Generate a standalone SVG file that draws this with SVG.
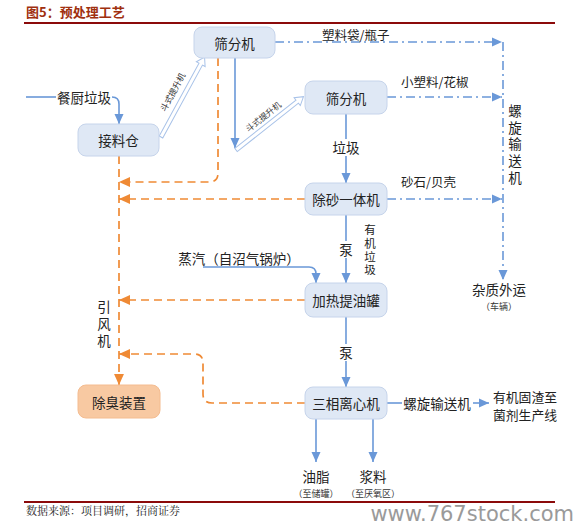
<svg xmlns="http://www.w3.org/2000/svg" width="588" height="529" viewBox="0 0 588 529">
<defs>
<style>
text{font-family:"Noto Sans CJK SC","Noto Sans",sans-serif;fill:#222}
.lbl{font-size:13.5px;text-anchor:middle;dominant-baseline:central}
.sm{font-size:12.5px;dominant-baseline:central}
.tiny{font-size:9px;text-anchor:middle;dominant-baseline:central;fill:#333}
.vert{font-size:13.5px;writing-mode:vertical-rl;text-anchor:start;letter-spacing:3.3px}
.node{fill:#DFE8F5;stroke:#C6D4EB;stroke-width:1}
.blue{fill:none;stroke:#6A98D8;stroke-width:1.6}
.bdd{fill:none;stroke:#6A98D8;stroke-width:1.6;stroke-dasharray:9 4 2 4}
.org{fill:none;stroke:#EF8A35;stroke-width:1.7;stroke-dasharray:8 5}
.elev{fill:#FFFFFF;stroke:#A8C2E8;stroke-width:1}
</style>
<marker id="ab" viewBox="0 0 10 10" refX="10" refY="5" markerWidth="10" markerHeight="10" markerUnits="userSpaceOnUse" orient="auto"><path d="M0,0.5 L10,5 L0,9.5 Z" fill="#6A98D8"/></marker>
<marker id="ao" viewBox="0 0 10 10" refX="10" refY="5" markerWidth="11" markerHeight="11" markerUnits="userSpaceOnUse" orient="auto"><path d="M0,0.5 L10,5 L0,9.5 Z" fill="#EF8A35"/></marker>
</defs>
<rect width="588" height="529" fill="#FFFFFF"/>
<text x="26" y="17" style="font-size:13px;font-weight:bold;fill:#A0300F">图5：预处理工艺</text>
<line x1="24" y1="23" x2="555" y2="23" stroke="#8B0A0A" stroke-width="2"/>
<line x1="24" y1="502" x2="555" y2="502" stroke="#8B0A0A" stroke-width="2"/>
<text x="26" y="515" style="font-size:11px;font-family:'Noto Serif CJK SC','Noto Sans CJK SC',serif;fill:#222">数据来源：项目调研，招商证券</text>
<text x="574" y="521" style="font-size:21px;text-anchor:end;fill:#9a9a9a;font-family:'DejaVu Sans',sans-serif">www.767stock.com</text>

<g id="connectors">
<!-- input -->
<line class="blue" x1="26" y1="97" x2="56" y2="97"/>
<text class="lbl" x="84" y="97">餐厨垃圾</text>
<path class="blue" d="M112,97 Q119,97 119,104 V124" marker-end="url(#ab)"/>
<!-- bucket elevator 1 -->
<g transform="translate(161,137) rotate(-61.4)">
<path class="elev" d="M0,-2 H83 V-5 L91,0 L83,5 V2 H0 Z"/>
<text x="45" y="-8" style="font-size:8.5px;text-anchor:middle;fill:#333">斗式提升机</text>
</g>
<!-- sieve1 down -->
<path class="blue" d="M235,58 V148" marker-end="url(#ab)"/>
<!-- bucket elevator 2 -->
<g transform="translate(236,150) rotate(-38.3)">
<path class="elev" d="M0,-2 H78 V-5 L86,0 L78,5 V2 H0 Z"/>
<text x="42" y="-6" style="font-size:8.5px;text-anchor:middle;fill:#333">斗式提升机</text>
</g>
<!-- dash-dot to right -->
<path class="bdd" d="M275,42 H502" marker-end="url(#ab)"/>
<text class="sm" x="322" y="34">塑料袋/瓶子</text>
<path class="bdd" d="M387,97 H502" marker-end="url(#ab)"/>
<text class="sm" x="401" y="81">小塑料/花椒</text>
<path class="bdd" d="M387,199 H502" marker-end="url(#ab)"/>
<text class="sm" x="401" y="181">砂石/贝壳</text>
<path class="bdd" d="M503,42 V280" marker-end="url(#ab)"/>
<text class="vert" x="515" y="104">螺旋输送机</text>
<text class="lbl" x="499" y="289">杂质外运</text>
<text class="tiny" x="499" y="306">（车辆）</text>
<!-- vertical main flow -->
<path class="blue" d="M346,114 V183" marker-end="url(#ab)"/>
<rect x="334" y="139" width="24" height="17" fill="#FFFFFF"/>
<text class="lbl" x="346" y="147">垃圾</text>
<path class="blue" d="M346,215 V283" marker-end="url(#ab)"/>
<rect x="338" y="241" width="16" height="17" fill="#FFFFFF"/>
<text class="lbl" x="346" y="249">泵</text>
<text class="vert" x="370" y="224" style="font-size:11.5px;letter-spacing:1.9px">有机垃圾</text>
<path class="blue" d="M346,317 V387" marker-end="url(#ab)"/>
<rect x="338" y="344" width="16" height="17" fill="#FFFFFF"/>
<text class="lbl" x="346" y="352">泵</text>
<!-- steam -->
<text class="lbl" x="239" y="258">蒸汽（自沼气锅炉）</text>
<path class="blue" d="M203,267 H309 Q316,267 316,274 V283" marker-end="url(#ab)"/>
<!-- centrifuge outputs -->
<line class="blue" x1="387" y1="403" x2="402" y2="403"/>
<text class="lbl" x="437" y="403">螺旋输送机</text>
<path class="blue" d="M473,403 H489" marker-end="url(#ab)"/>
<text class="lbl" style="font-size:12.8px"><tspan x="525" y="395.5">有机固渣至</tspan><tspan x="525" dy="18.5">菌剂生产线</tspan></text>
<path class="blue" d="M316,419 V462" marker-end="url(#ab)"/>
<path class="blue" d="M373,419 V462" marker-end="url(#ab)"/>
<text class="lbl" x="316" y="476">油脂</text>
<text class="tiny" x="316" y="493">（至储罐）</text>
<text class="lbl" x="373" y="476">浆料</text>
<text class="tiny" x="373" y="493">（至厌氧区）</text>
<!-- orange air lines -->
<path class="org" d="M218,58 V173 Q218,182 209,182 H119" marker-end="url(#ao)"/>
<path class="org" d="M305,199 H119" marker-end="url(#ao)"/>
<path class="org" d="M305,300 H119" marker-end="url(#ao)"/>
<path class="org" d="M305,403 H212 Q203,403 203,394 V363 Q203,354 194,354 H119" marker-end="url(#ao)"/>
<path class="org" d="M119,156 V385" marker-end="url(#ao)"/>
<text class="vert" x="104" y="300" style="letter-spacing:3.5px">引风机</text>
</g>

<g id="sieve1"><rect class="node" x="194" y="27" width="81" height="31" rx="8"/><text class="lbl" x="234.5" y="42.5">筛分机</text></g>
<g id="hopper"><rect class="node" x="78" y="124" width="81" height="32" rx="8"/><text class="lbl" x="118.5" y="140">接料仓</text></g>
<g id="sieve2"><rect class="node" x="305" y="81" width="82" height="33" rx="8"/><text class="lbl" x="346" y="97.5">筛分机</text></g>
<g id="desander"><rect class="node" x="305" y="183" width="82" height="32" rx="8"/><text class="lbl" x="346" y="199">除砂一体机</text></g>
<g id="heater"><rect class="node" x="305" y="283" width="82" height="34" rx="8"/><text class="lbl" x="346" y="300">加热提油罐</text></g>
<g id="centrifuge"><rect class="node" x="305" y="387" width="82" height="32" rx="8"/><text class="lbl" x="346" y="403">三相离心机</text></g>
<g id="deodor"><rect x="78" y="385" width="82" height="33" rx="8" fill="#F8C9A2" stroke="#F4BC90"/><text class="lbl" x="119" y="401.5">除臭装置</text></g>
</svg>
